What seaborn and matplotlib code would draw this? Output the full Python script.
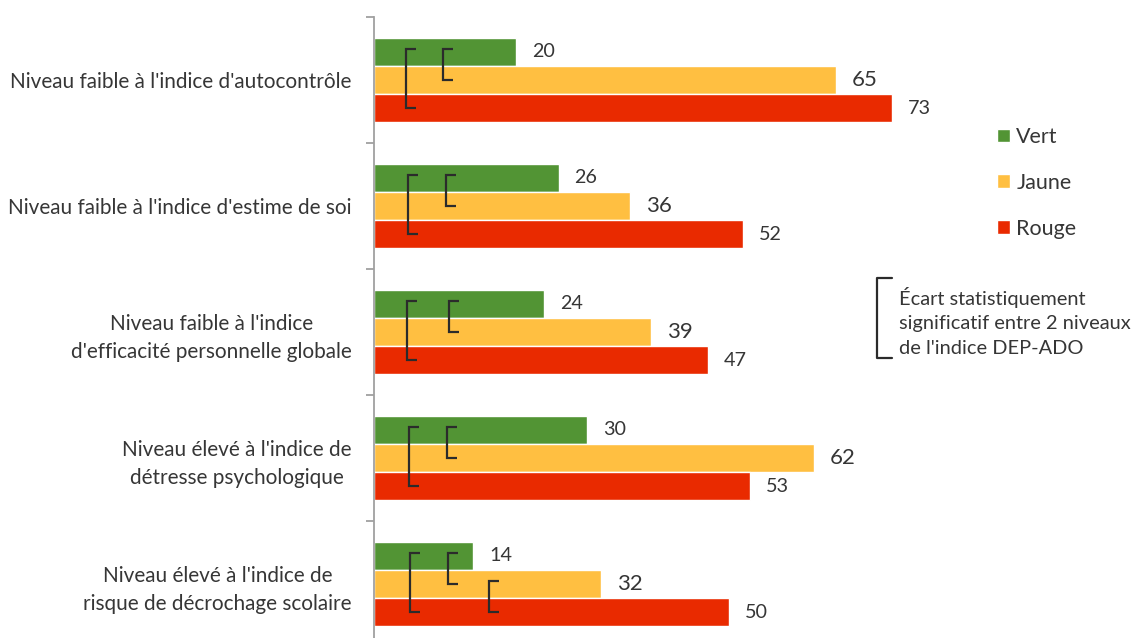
import matplotlib
matplotlib.use("Agg")
import matplotlib.pyplot as plt
from matplotlib.lines import Line2D
import seaborn as sns
import pandas as pd

# ---------------- data ----------------
categories = [
    "Niveau faible à l'indice d'autocontrôle",
    "Niveau faible à l'indice d'estime de soi",
    "Niveau faible à l'indice\nd'efficacité personnelle globale",
    "Niveau élevé à l'indice de\ndétresse psychologique",
    "Niveau élevé à l'indice de\nrisque de décrochage scolaire",
]
series = ["Vert", "Jaune", "Rouge"]
vert = [20, 26, 24, 30, 14]
jaune = [65, 36, 39, 62, 32]
rouge = [73, 52, 47, 53, 50]

# significant differences: (category index, series a, series b)
sig_cat = [0, 0, 1, 1, 2, 2, 3, 3, 4, 4, 4]
sig_a = ["Vert", "Vert", "Vert", "Vert", "Vert", "Vert", "Vert", "Vert", "Vert", "Vert", "Jaune"]
sig_b = ["Rouge", "Jaune", "Rouge", "Jaune", "Rouge", "Jaune", "Rouge", "Jaune", "Rouge", "Jaune", "Rouge"]

legend_note = "Écart statistiquement\nsignificatif entre 2 niveaux\nde l'indice DEP-ADO"

# ---------------- style ----------------
colors = {"Vert": "#529434", "Jaune": "#FFBF41", "Rouge": "#E92A00"}
text_color = "#363636"
# horizontal placement of each bracket (value units)
bracket_x = [4.5, 9.7, 4.8, 10.1, 4.7, 10.6, 4.9, 10.3, 5.1, 10.4, 16.2]

sns.set_theme(style="white")
plt.rcParams["font.family"] = ["Lato", "DejaVu Sans"]

W, H = 1135, 638
fig = plt.figure(figsize=(W / 100, H / 100), dpi=100)
px_per_unit = 7.1
ax = fig.add_axes([374 / W, -9 / H, (W - 374) / W, 630 / H])

df = pd.DataFrame({
    "cat": categories * 3,
    "serie": [s for s in series for _ in categories],
    "val": vert + jaune + rouge,
})

sns.barplot(data=df, y="cat", x="val", hue="serie", order=categories,
            hue_order=series, palette=colors, width=0.667, orient="h",
            saturation=1, ax=ax, legend=True, errorbar=None)

ax.set_xlim(0, (W - 374) / px_per_unit)
ax.set_ylim(4.5, -0.5)
ax.set_xlabel("")
ax.set_ylabel("")
ax.set_xticks([])

for s in ["top", "right", "bottom"]:
    ax.spines[s].set_visible(False)
ax.spines["left"].set_color("#a0a0a0")
ax.spines["left"].set_linewidth(1.3)

ax.set_yticks([i - 0.5 for i in range(len(categories) + 1)], minor=True)
ax.tick_params(axis="y", which="minor", length=6, width=1.3, color="#a0a0a0", left=True)
ax.tick_params(axis="y", which="major", length=0, pad=16, labelsize=14.95, labelcolor=text_color)
for lab in ax.get_yticklabels():
    lab.set_multialignment("center")
    lab.set_linespacing(1.47)

# value labels
for h, cont in enumerate(ax.containers):
    fs = 16 if series[h] == "Jaune" else 14.2
    for bar in cont:
        w = bar.get_width()
        ax.text(w + 16 / px_per_unit, bar.get_y() + bar.get_height() / 2,
                f"{w:.0f}", va="center", ha="left", fontsize=fs, color=text_color)

# significance brackets
tick_len = 10 / px_per_unit
for c, a, b, bx in zip(sig_cat, sig_a, sig_b, bracket_x):
    ba = ax.containers[series.index(a)][c]
    bb = ax.containers[series.index(b)][c]
    ya = ba.get_y() + ba.get_height() / 2 - 0.02
    yb = bb.get_y() + bb.get_height() / 2
    ax.plot([bx + tick_len, bx, bx, bx + tick_len], [ya, ya, yb, yb],
            color="#2b2b2b", lw=1.6, solid_capstyle="butt", solid_joinstyle="miter")

# legend
handles, labels = ax.get_legend_handles_labels()
ax.legend(handles, labels, loc="upper left", bbox_to_anchor=(997 / W, 1 - 127 / H),
          bbox_transform=fig.transFigure, frameon=False, fontsize=15.5,
          handlelength=0.6, handleheight=0.6, handletextpad=0.3,
          labelspacing=1.2, borderpad=0, borderaxespad=0, labelcolor=text_color)

# bracket legend
fig.add_artist(Line2D([892 / W, 877 / W, 877 / W, 892 / W],
                      [1 - 278 / H, 1 - 278 / H, 1 - 358 / H, 1 - 358 / H],
                      color="#2b2b2b", lw=1.6, transform=fig.transFigure))
fig.text(899 / W, 1 - 322 / H, legend_note, ha="left", va="center",
         fontsize=14.4, color=text_color, linespacing=1.57)

fig.savefig("out.png", dpi=100)
